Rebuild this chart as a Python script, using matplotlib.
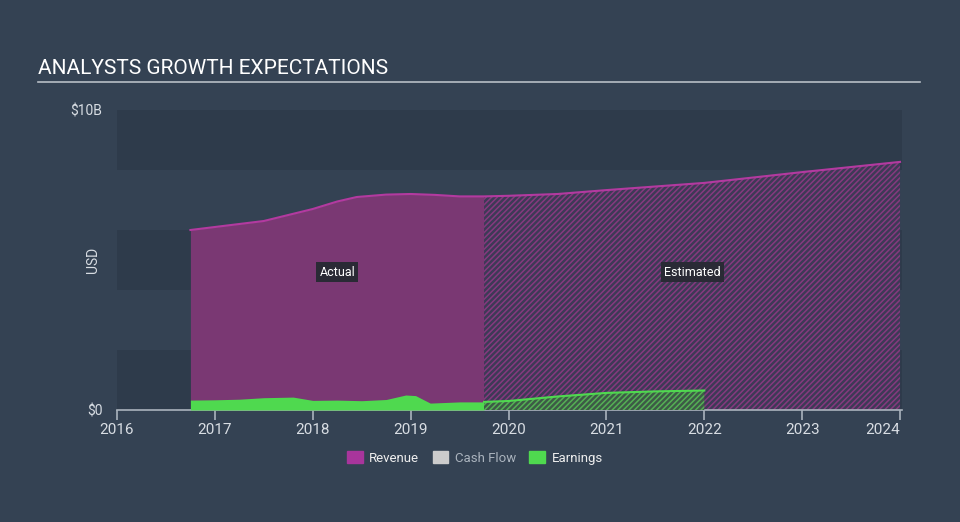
import numpy as np
import matplotlib
matplotlib.use('Agg')
import matplotlib.pyplot as plt
from matplotlib.patches import Patch

plt.rcParams['font.family'] = ['Roboto', 'DejaVu Sans']
plt.rcParams['hatch.linewidth'] = 1.1

# values in billions USD, x in fractional years
rev_actual_x = [2016.75, 2017.0, 2017.25, 2017.5, 2017.75, 2018.0, 2018.25, 2018.45, 2018.75, 2019.0, 2019.25, 2019.5, 2019.75]
rev_actual_y = [6.0, 6.1, 6.2, 6.3, 6.5, 6.7, 6.95, 7.1, 7.18, 7.2, 7.17, 7.12, 7.12]
rev_est_x = [2019.75, 2020.0, 2020.5, 2021.0, 2021.5, 2022.0, 2022.5, 2023.0, 2023.5, 2024.0]
rev_est_y = [7.12, 7.14, 7.2, 7.33, 7.45, 7.57, 7.75, 7.93, 8.1, 8.27]

earn_actual_x = [2016.75, 2017.0, 2017.25, 2017.5, 2017.8, 2018.0, 2018.25, 2018.5, 2018.75, 2018.95, 2019.05, 2019.2, 2019.5, 2019.75]
earn_actual_y = [0.33, 0.34, 0.36, 0.41, 0.43, 0.32, 0.33, 0.31, 0.35, 0.5, 0.48, 0.23, 0.27, 0.27]
earn_est_x = [2019.75, 2020.0, 2020.5, 2021.0, 2021.5, 2022.0]
earn_est_y = [0.27, 0.3, 0.45, 0.57, 0.62, 0.65]

years = [2016, 2017, 2018, 2019, 2020, 2021, 2022, 2023, 2024]
series_names = ['Revenue', 'Cash Flow', 'Earnings']

bg = '#344253'
band = '#2e3b4b'
rev_fill = '#7a3873'
rev_line = '#b33aa0'
earn_col = '#4fd94f'
text_col = '#d8dde3'

fig = plt.figure(figsize=(9.6, 5.22), dpi=100, facecolor=bg)
ax = fig.add_axes([117/960, 1 - 410/522, (902 - 117)/960, 300/522])
ax.set_facecolor(bg)

# alternating horizontal bands
for lo in [0, 4, 8]:
    ax.axhspan(lo, lo + 2, color=band, zorder=0, lw=0)

# revenue
ax.fill_between(rev_actual_x, rev_actual_y, color=rev_fill, lw=0, zorder=2)
ax.fill_between(rev_est_x, rev_est_y, facecolor='#3d3a56', edgecolor='#86397f',
                hatch='//////', lw=0, zorder=2)
ax.plot(rev_actual_x + rev_est_x[1:], rev_actual_y + rev_est_y[1:], color=rev_line, lw=1.5, zorder=4)

# earnings
ax.fill_between(earn_actual_x, earn_actual_y, color=earn_col, lw=0, zorder=3)
ax.fill_between(earn_est_x, earn_est_y, facecolor='#3d5a46', edgecolor='#55b055',
                hatch='//////', lw=0, zorder=3)
ax.plot(earn_est_x, earn_est_y, color=earn_col, lw=1.5, zorder=4)

ax.set_xlim(2016, 2024.02)
ax.set_ylim(0, 10)
ax.set_xticks(years)
ax.set_xticklabels([str(y) for y in years])
ax.get_xticklabels()[-1].set_horizontalalignment('right')
ax.set_yticks([0, 10])
ax.set_yticklabels(['$0', '$10B'])
ax.tick_params(axis='x', colors='#aab3bd', labelcolor=text_col, labelsize=11, length=7, width=1.2, pad=2)
ax.tick_params(axis='y', length=0, labelcolor=text_col, labelsize=10, pad=10.5)
for s in ['top', 'right', 'left']:
    ax.spines[s].set_visible(False)
ax.spines['bottom'].set_color('#aab3bd')
ax.spines['bottom'].set_linewidth(1.2)
fig.text(93/960, 1 - 260/522, 'USD', color=text_col, fontsize=10, rotation=90, ha='center', va='center')

ax.text(2018.25, 4.6, 'Actual', color='white', fontsize=9, ha='center', va='center', zorder=5,
        bbox=dict(boxstyle='square,pad=0.25', fc='#2a2a35', ec='none'))
ax.text(2021.88, 4.6, 'Estimated', color='white', fontsize=9, ha='center', va='center', zorder=5,
        bbox=dict(boxstyle='square,pad=0.25', fc='#2a2a35', ec='none'))

fig.text(38/960, 1 - 69/522, 'ANALYSTS GROWTH EXPECTATIONS', color='white', fontsize=15, va='center')
fig.add_artist(plt.Line2D([38/960, 920/960], [1 - 82/522, 1 - 82/522], color='#b8bec6', lw=1.2))

handles = [Patch(color='#a8359c'), Patch(color='#cccccc'), Patch(color=earn_col)]
leg = fig.legend(handles, series_names, loc='center', bbox_to_anchor=(475/960, 1 - 458/522), ncol=3,
                 frameon=False, handlelength=1.2, handleheight=1.0, columnspacing=1.0, handletextpad=0.5,
                 fontsize=9.5)
for t, c in zip(leg.get_texts(), ['#eeeeee', '#aab3bd', '#eeeeee']):
    t.set_color(c)

fig.savefig('out.png', dpi=100, facecolor=bg)
